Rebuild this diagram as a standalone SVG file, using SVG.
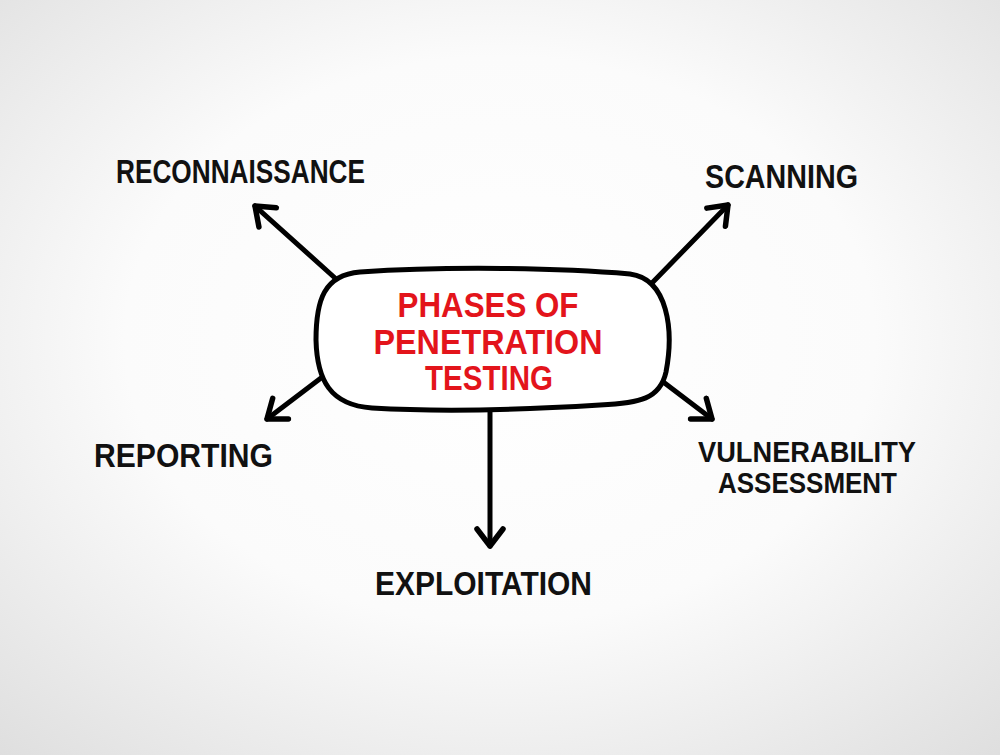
<svg xmlns="http://www.w3.org/2000/svg" width="1000" height="755" viewBox="0 0 1000 755">
  <defs>
    <radialGradient id="bg" cx="50%" cy="45%" r="75%">
      <stop offset="0" stop-color="#ffffff"/>
      <stop offset="0.5" stop-color="#fbfbfb"/>
      <stop offset="1" stop-color="#dedede"/>
    </radialGradient>
    <marker id="arrow" markerUnits="userSpaceOnUse" viewBox="-24 -16 28 32" markerWidth="28" markerHeight="32" refX="0" refY="0" orient="auto">
      <path d="M-17,-13 L0,0 L-17,13" fill="none" stroke="#000" stroke-width="5.5" stroke-linecap="round" stroke-linejoin="round"/>
    </marker>
    <style>
      .lbl { font-family: "Liberation Sans", Arial, sans-serif; font-weight: bold; font-size: 33px; fill: #111; }
      .lbl2 { font-family: "Liberation Sans", Arial, sans-serif; font-weight: bold; font-size: 30px; fill: #111; }
      .ctr { font-family: "Liberation Sans", Arial, sans-serif; font-weight: bold; font-size: 35px; fill: #e3141b; text-anchor: middle; }
      .conn { fill: none; stroke: #000; stroke-width: 5; stroke-linecap: round; marker-end: url(#arrow); }
    </style>
  </defs>
  <rect width="1000" height="755" fill="url(#bg)"/>

  <g id="connectors">
    <line class="conn" x1="335" y1="278" x2="255" y2="206"/>
    <line class="conn" x1="652" y1="283" x2="728" y2="205"/>
    <line class="conn" x1="321" y1="378" x2="267" y2="419"/>
    <line class="conn" x1="658" y1="378" x2="712" y2="419"/>
    <line class="conn" x1="490" y1="410" x2="490" y2="546"/>
  </g>

  <g id="center">
    <path d="M360,272 C450,266 560,268 630,274 C668,279 674,330 666,372 C660,399 640,403 600,405 C520,410 440,412 372,408 C330,405 317,380 316,340 C316,300 324,275 360,272 Z" fill="#fff" stroke="#000" stroke-width="5"/>
    <text class="ctr" x="488" y="317" textLength="181" lengthAdjust="spacingAndGlyphs">PHASES OF</text>
    <text class="ctr" x="488" y="354" textLength="229" lengthAdjust="spacingAndGlyphs">PENETRATION</text>
    <text class="ctr" x="489" y="390" textLength="128" lengthAdjust="spacingAndGlyphs">TESTING</text>
  </g>

  <g id="reconnaissance">
    <text class="lbl" x="116" y="183" textLength="249" lengthAdjust="spacingAndGlyphs">RECONNAISSANCE</text>
  </g>
  <g id="scanning">
    <text class="lbl" x="705" y="188" textLength="153" lengthAdjust="spacingAndGlyphs">SCANNING</text>
  </g>
  <g id="reporting">
    <text class="lbl" x="94" y="467" textLength="179" lengthAdjust="spacingAndGlyphs">REPORTING</text>
  </g>
  <g id="vulnerability">
    <text class="lbl2" x="698" y="462" textLength="218" lengthAdjust="spacingAndGlyphs">VULNERABILITY</text>
    <text class="lbl2" x="718" y="493" textLength="179" lengthAdjust="spacingAndGlyphs">ASSESSMENT</text>
  </g>
  <g id="exploitation">
    <text class="lbl" x="375" y="595" textLength="217" lengthAdjust="spacingAndGlyphs">EXPLOITATION</text>
  </g>
</svg>
